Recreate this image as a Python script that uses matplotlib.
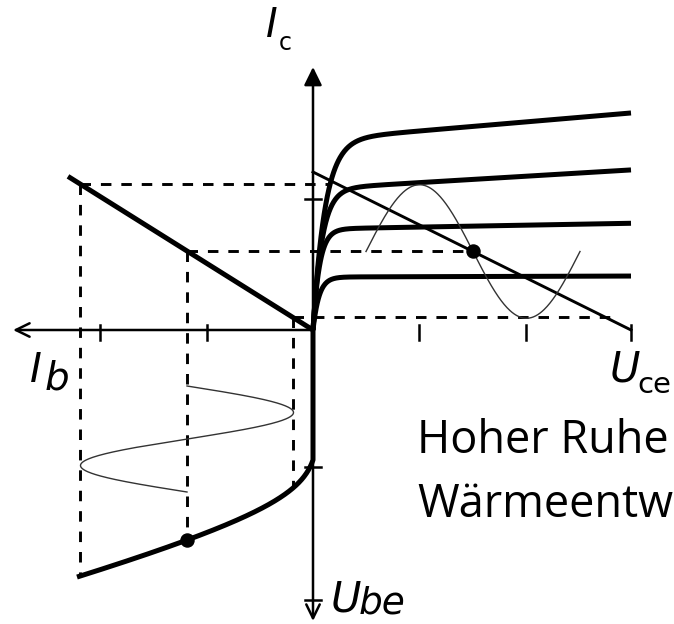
import numpy as np
import matplotlib
matplotlib.use("Agg")
import matplotlib.pyplot as plt

# ---------------- data (diagram units, origin at axis crossing) ----------------
# Output characteristics Ic(Uce) for four base currents
ic_sat = [190, 141, 101, 53]          # saturation level of each curve
ic_slope = [0.085, 0.06, 0.018, 0.003]  # Early-effect slope
ic_knee = [12, 9, 6.5, 6]            # knee width
uce_max = 318                        # end of curves / load line end (Uce0)
load_ic0 = 158                       # load line at Uce = 0

# Current transfer Ic = B * Ib (quadrant II)
ib_line_end = 245
beta = 0.627

# operating point and swing of the base current
ib_min, ib_q, ib_max = 20, 126, 233
uce_q = 160
uce_swing = 107

# Input characteristic Ube(Ib) (quadrant III)
ube_knee = 130
ube_log_a, ube_log_b, ube_res = 15.7, 6.0, 0.25

# input sine (time downwards)
ib_sine_t0 = 56
ib_sine_period = 106

# ticks
uce_ticks = [106, 213, 318]
ib_ticks = [106, 213]
ic_ticks = [131]
ube_ticks = [137, 270]

# ---------------- figure ----------------
fig = plt.figure(figsize=(6.74, 6.24), dpi=100)
ax = fig.add_axes([0, 0, 1, 1])
ax.set_xlim(-313, 361)
ax.set_ylim(-294, 330)
ax.axis("off")

K = "black"
lw_axis = 1.8
lw_thick = 3.6
lw_dash = 2.1
dash = (0, (3.6, 3.4))

# axes with arrows
ax.annotate("", xy=(-300, 0), xytext=(0, 0),
            arrowprops=dict(arrowstyle="->,head_length=0.45,head_width=0.22",
                            lw=lw_axis, color=K, shrinkA=0, shrinkB=0, mutation_scale=22))
ax.annotate("", xy=(364, 0), xytext=(0, 0),
            arrowprops=dict(arrowstyle="->,head_length=0.45,head_width=0.22",
                            lw=lw_axis, color=K, shrinkA=0, shrinkB=0, mutation_scale=22))
ax.annotate("", xy=(0, 263), xytext=(0, 0),
            arrowprops=dict(arrowstyle="-|>,head_length=0.55,head_width=0.27",
                            lw=lw_axis, color=K, shrinkA=0, shrinkB=0, mutation_scale=20))
ax.annotate("", xy=(0, -291), xytext=(0, 0),
            arrowprops=dict(arrowstyle="->,head_length=0.45,head_width=0.22",
                            lw=lw_axis, color=K, shrinkA=0, shrinkB=0, mutation_scale=22))

# ticks
for t in uce_ticks:
    ax.plot([t, t], [5, -10], color=K, lw=lw_axis)
for t in ib_ticks:
    ax.plot([-t, -t], [5, -10], color=K, lw=lw_axis)
for t in ic_ticks:
    ax.plot([-8, 8], [t, t], color=K, lw=lw_axis)
for t in ube_ticks:
    ax.plot([-8, 8], [-t, -t], color=K, lw=lw_axis)

# output characteristics
uce = np.linspace(0, uce_max, 600)
for A, B, k in zip(ic_sat, ic_slope, ic_knee):
    ic = A * (1 - np.exp(-uce / k)) + B * uce
    ax.plot(uce, ic, color=K, lw=lw_thick, solid_capstyle="butt", zorder=3)

# load line
ax.plot([0, uce_max], [load_ic0, 0], color=K, lw=2.1, zorder=3)

# transfer line Ic = beta*Ib
ax.plot([-ib_line_end, 0], [beta * ib_line_end, 0], color=K, lw=lw_thick,
        solid_capstyle="butt", zorder=3)

# input characteristic
def ube_of(i):
    return ube_knee + ube_log_a * np.log(1 + i / ube_log_b) + ube_res * i

ib = np.linspace(0, 236, 500)
ax.plot(np.r_[0, -ib], np.r_[0, -ube_of(ib)], color=K, lw=lw_thick,
        solid_capstyle="butt", zorder=3)

ic_min, ic_q, ic_max = beta * ib_min, beta * ib_q, beta * ib_max
ic_q_ll = load_ic0 * (1 - uce_q / uce_max)

# dashed projection lines
ax.plot([-ib_max, 18], [ic_max, ic_max], color=K, lw=lw_dash, ls=dash)
ax.plot([-ib_q, uce_q], [ic_q_ll, ic_q_ll], color=K, lw=lw_dash, ls=dash)
ax.plot([-ib_min, 299], [ic_min, ic_min], color=K, lw=lw_dash, ls=dash)
ax.plot([-ib_max, -ib_max], [ic_max, -ube_of(ib_max)], color=K, lw=lw_dash, ls=dash)
ax.plot([-ib_q, -ib_q], [ic_q_ll, -ube_of(ib_q)], color=K, lw=lw_dash, ls=dash)
ax.plot([-ib_min, -ib_min], [ic_min, -ube_of(ib_min)], color=K, lw=lw_dash, ls=dash)

# output sine Ic(t)
xs = np.linspace(uce_q - uce_swing, uce_q + uce_swing, 300)
amp_ic = (ic_max - ic_min) / 2
ax.plot(xs, ic_q_ll + amp_ic * np.sin(2 * np.pi * (xs - (uce_q - uce_swing)) / (2 * uce_swing)),
        color="#333333", lw=1.0, zorder=4)

# input sine Ib(t)
ts = np.linspace(0, ib_sine_period, 300)
amp_ib = (ib_max - ib_min) / 2
ax.plot(-(ib_q - amp_ib * np.sin(2 * np.pi * ts / ib_sine_period)), -(ib_sine_t0 + ts),
        color="#333333", lw=1.0, zorder=4)

# operating points
ax.plot([uce_q], [ic_q_ll], "o", color=K, ms=9.4, zorder=5)
ax.plot([-ib_q], [-ube_of(ib_q)], "o", color=K, ms=9.4, zorder=5)

# labels
ax.text(-47, 293, "I", fontsize=28.5, style="italic", ha="left", va="baseline")
ax.text(-34, 280, "c", fontsize=17, ha="left", va="baseline")
ax.text(-283, -52, "I", fontsize=29, style="italic", ha="left", va="baseline")
ax.text(-268, -60, "b", fontsize=28, style="italic", ha="left", va="baseline")
ax.text(297, -52, "U", fontsize=30, style="italic", ha="left", va="baseline")
ax.text(324, -63, "ce", fontsize=21, ha="left", va="baseline")
ax.text(18, -281, "U", fontsize=30, style="italic", ha="left", va="baseline")
ax.text(46, -284, "be", fontsize=27, style="italic", ha="left", va="baseline")

ax.text(104, -123, "Hoher Ruhe", fontsize=32.5, family="Open Sans", ha="left", va="baseline")
ax.text(104, -187, "Wärmeentw", fontsize=32.5, family="Open Sans", ha="left", va="baseline")

fig.savefig("out.png", dpi=100)
